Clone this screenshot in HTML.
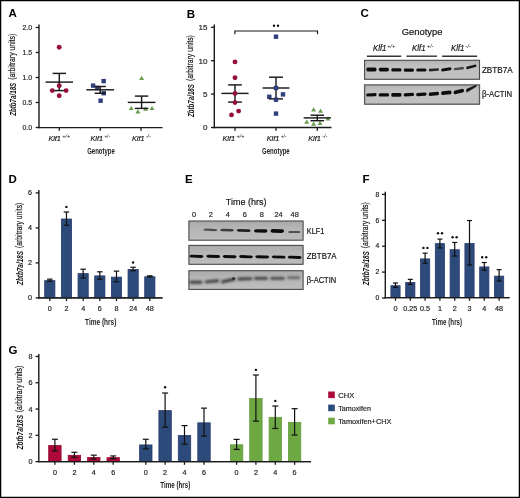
<!DOCTYPE html><html><head><meta charset="utf-8"><style>html,body{margin:0;padding:0;background:#fff}svg{display:block;will-change:transform}text{font-family:"Liberation Sans",sans-serif}</style></head><body>
<svg width="520" height="498" viewBox="0 0 520 498">
<defs><filter id="b1" x="-20%" y="-100%" width="140%" height="300%"><feGaussianBlur stdDeviation="0.7"/></filter><filter id="b3" x="-20%" y="-100%" width="140%" height="300%"><feGaussianBlur stdDeviation="0.95"/></filter><filter id="b2" x="-20%" y="-100%" width="140%" height="300%"><feGaussianBlur stdDeviation="0.5"/></filter><linearGradient id="gb" x1="0" y1="0" x2="0" y2="1"><stop offset="0" stop-color="#b4b4b4"/><stop offset="0.3" stop-color="#c0c0c0"/><stop offset="1" stop-color="#c0c0c0"/></linearGradient><linearGradient id="ge" x1="0" y1="0" x2="0" y2="1"><stop offset="0" stop-color="#a9a9a9"/><stop offset="0.35" stop-color="#b5b5b5"/><stop offset="1" stop-color="#bdbdbd"/></linearGradient></defs>
<rect x="0" y="0" width="520" height="498" fill="#fff"/>
<text x="8.40" y="17.48" font-size="11.5" text-anchor="start" fill="#000" stroke="#000" stroke-width="0" font-weight="bold" font-style="normal" >A</text>
<line x1="39.00" y1="24.50" x2="39.00" y2="128.30" stroke="#1a1a1a" stroke-width="1.4"/>
<line x1="35.70" y1="27.50" x2="39.00" y2="27.50" stroke="#1a1a1a" stroke-width="1.3"/>
<text x="32.10" y="30.40" font-size="8.0" text-anchor="end" fill="#222" stroke="#222" stroke-width="0.18" font-weight="normal" font-style="normal" textLength="9.6" lengthAdjust="spacingAndGlyphs" >2.0</text>
<line x1="35.70" y1="52.50" x2="39.00" y2="52.50" stroke="#1a1a1a" stroke-width="1.3"/>
<text x="32.10" y="55.40" font-size="8.0" text-anchor="end" fill="#222" stroke="#222" stroke-width="0.18" font-weight="normal" font-style="normal" textLength="9.6" lengthAdjust="spacingAndGlyphs" >1.5</text>
<line x1="35.70" y1="77.50" x2="39.00" y2="77.50" stroke="#1a1a1a" stroke-width="1.3"/>
<text x="32.10" y="80.40" font-size="8.0" text-anchor="end" fill="#222" stroke="#222" stroke-width="0.18" font-weight="normal" font-style="normal" textLength="9.6" lengthAdjust="spacingAndGlyphs" >1.0</text>
<line x1="35.70" y1="102.50" x2="39.00" y2="102.50" stroke="#1a1a1a" stroke-width="1.3"/>
<text x="32.10" y="105.40" font-size="8.0" text-anchor="end" fill="#222" stroke="#222" stroke-width="0.18" font-weight="normal" font-style="normal" textLength="9.6" lengthAdjust="spacingAndGlyphs" >0.5</text>
<line x1="35.70" y1="127.50" x2="39.00" y2="127.50" stroke="#1a1a1a" stroke-width="1.3"/>
<text x="32.10" y="130.40" font-size="8.0" text-anchor="end" fill="#222" stroke="#222" stroke-width="0.18" font-weight="normal" font-style="normal" textLength="9.6" lengthAdjust="spacingAndGlyphs" >0.0</text>
<line x1="38.30" y1="127.60" x2="162.50" y2="127.60" stroke="#1a1a1a" stroke-width="1.4"/>
<line x1="59.30" y1="127.60" x2="59.30" y2="130.80" stroke="#1a1a1a" stroke-width="1.3"/>
<line x1="100.30" y1="127.60" x2="100.30" y2="130.80" stroke="#1a1a1a" stroke-width="1.3"/>
<line x1="141.00" y1="127.60" x2="141.00" y2="130.80" stroke="#1a1a1a" stroke-width="1.3"/>
<text transform="translate(15.60,115.80) rotate(-90)" font-size="9.0" font-style="italic" font-weight="bold" fill="#141414" textLength="33.0" lengthAdjust="spacingAndGlyphs">Zbtb7a/18S</text>
<text transform="translate(15.00,79.80) rotate(-90)" font-size="9.0" fill="#141414" stroke="#141414" stroke-width="0.2" textLength="46.0" lengthAdjust="spacingAndGlyphs">(arbitrary units)</text>
<text x="48.40" y="140.80" font-size="8.0" font-style="italic" fill="#141414" stroke="#141414" stroke-width="0.18" textLength="12.5" lengthAdjust="spacingAndGlyphs">Klf1</text>
<text x="62.30" y="137.60" font-size="4.50" font-style="italic" fill="#141414" textLength="8.0" lengthAdjust="spacingAndGlyphs">+/+</text>
<text x="90.50" y="140.80" font-size="8.0" font-style="italic" fill="#141414" stroke="#141414" stroke-width="0.18" textLength="12.5" lengthAdjust="spacingAndGlyphs">Klf1</text>
<text x="104.40" y="137.60" font-size="4.50" font-style="italic" fill="#141414" textLength="5.6" lengthAdjust="spacingAndGlyphs">+/-</text>
<text x="132.00" y="140.80" font-size="8.0" font-style="italic" fill="#141414" stroke="#141414" stroke-width="0.18" textLength="12.5" lengthAdjust="spacingAndGlyphs">Klf1</text>
<text x="145.90" y="137.60" font-size="4.50" font-style="italic" fill="#141414" textLength="4.8" lengthAdjust="spacingAndGlyphs">-/-</text>
<text x="87.20" y="154.40" font-size="9.6" text-anchor="start" fill="#1e1e1e" stroke="#1e1e1e" stroke-width="0" font-weight="bold" font-style="normal" textLength="27.6" lengthAdjust="spacingAndGlyphs" >Genotype</text>
<line x1="45.60" y1="82.10" x2="73.00" y2="82.10" stroke="#1a1a1a" stroke-width="1.45"/>
<line x1="59.30" y1="73.40" x2="59.30" y2="90.60" stroke="#1a1a1a" stroke-width="1.45"/>
<line x1="52.60" y1="73.40" x2="66.00" y2="73.40" stroke="#1a1a1a" stroke-width="1.45"/>
<line x1="52.60" y1="90.60" x2="66.00" y2="90.60" stroke="#1a1a1a" stroke-width="1.45"/>
<circle cx="59.20" cy="47.20" r="2.45" fill="#960f3c"/>
<circle cx="59.20" cy="85.70" r="2.45" fill="#960f3c"/>
<circle cx="52.30" cy="90.60" r="2.45" fill="#960f3c"/>
<circle cx="66.10" cy="90.60" r="2.45" fill="#960f3c"/>
<circle cx="59.20" cy="95.80" r="2.45" fill="#960f3c"/>
<rect x="101.50" y="78.90" width="4.4" height="4.4" fill="#2f3f7a"/>
<rect x="90.90" y="83.40" width="4.4" height="4.4" fill="#2f3f7a"/>
<rect x="95.10" y="85.80" width="4.4" height="4.4" fill="#2f3f7a"/>
<rect x="101.50" y="91.00" width="4.4" height="4.4" fill="#2f3f7a"/>
<rect x="98.40" y="98.50" width="4.4" height="4.4" fill="#2f3f7a"/>
<line x1="86.30" y1="89.80" x2="114.10" y2="89.80" stroke="#1a1a1a" stroke-width="1.45"/>
<line x1="100.20" y1="86.50" x2="100.20" y2="93.30" stroke="#1a1a1a" stroke-width="1.45"/>
<line x1="94.60" y1="86.50" x2="105.80" y2="86.50" stroke="#1a1a1a" stroke-width="1.45"/>
<line x1="94.60" y1="93.30" x2="105.80" y2="93.30" stroke="#1a1a1a" stroke-width="1.45"/>
<polygon points="139.10,80.03 144.10,80.03 141.60,75.78" fill="#6a9c52"/>
<polygon points="128.70,110.12 133.70,110.12 131.20,105.88" fill="#6a9c52"/>
<polygon points="135.40,113.53 140.40,113.53 137.90,109.28" fill="#6a9c52"/>
<polygon points="143.10,110.83 148.10,110.83 145.60,106.58" fill="#6a9c52"/>
<polygon points="149.50,110.12 154.50,110.12 152.00,105.88" fill="#6a9c52"/>
<line x1="127.75" y1="102.40" x2="155.45" y2="102.40" stroke="#1a1a1a" stroke-width="1.45"/>
<line x1="141.60" y1="96.10" x2="141.60" y2="108.40" stroke="#1a1a1a" stroke-width="1.45"/>
<line x1="134.90" y1="96.10" x2="148.30" y2="96.10" stroke="#1a1a1a" stroke-width="1.45"/>
<line x1="134.90" y1="108.40" x2="148.30" y2="108.40" stroke="#1a1a1a" stroke-width="1.45"/>
<text x="186.70" y="17.88" font-size="11.5" text-anchor="start" fill="#000" stroke="#000" stroke-width="0" font-weight="bold" font-style="normal" >B</text>
<line x1="214.30" y1="24.50" x2="214.30" y2="128.20" stroke="#1a1a1a" stroke-width="1.4"/>
<line x1="211.00" y1="27.30" x2="214.30" y2="27.30" stroke="#1a1a1a" stroke-width="1.3"/>
<text x="207.50" y="30.20" font-size="8.0" text-anchor="end" fill="#222" stroke="#222" stroke-width="0.18" font-weight="normal" font-style="normal" >15</text>
<line x1="211.00" y1="60.70" x2="214.30" y2="60.70" stroke="#1a1a1a" stroke-width="1.3"/>
<text x="207.50" y="63.60" font-size="8.0" text-anchor="end" fill="#222" stroke="#222" stroke-width="0.18" font-weight="normal" font-style="normal" >10</text>
<line x1="211.00" y1="94.10" x2="214.30" y2="94.10" stroke="#1a1a1a" stroke-width="1.3"/>
<text x="207.50" y="97.00" font-size="8.0" text-anchor="end" fill="#222" stroke="#222" stroke-width="0.18" font-weight="normal" font-style="normal" >5</text>
<line x1="211.00" y1="127.50" x2="214.30" y2="127.50" stroke="#1a1a1a" stroke-width="1.3"/>
<text x="207.50" y="130.40" font-size="8.0" text-anchor="end" fill="#222" stroke="#222" stroke-width="0.18" font-weight="normal" font-style="normal" >0</text>
<line x1="213.60" y1="127.50" x2="331.50" y2="127.50" stroke="#1a1a1a" stroke-width="1.4"/>
<line x1="235.00" y1="127.50" x2="235.00" y2="130.70" stroke="#1a1a1a" stroke-width="1.3"/>
<line x1="276.00" y1="127.50" x2="276.00" y2="130.70" stroke="#1a1a1a" stroke-width="1.3"/>
<line x1="317.30" y1="127.50" x2="317.30" y2="130.70" stroke="#1a1a1a" stroke-width="1.3"/>
<text transform="translate(193.90,117.10) rotate(-90)" font-size="9.0" font-style="italic" font-weight="bold" fill="#141414" textLength="33.0" lengthAdjust="spacingAndGlyphs">Zbtb7a/18S</text>
<text transform="translate(193.30,81.10) rotate(-90)" font-size="9.0" fill="#141414" stroke="#141414" stroke-width="0.2" textLength="46.0" lengthAdjust="spacingAndGlyphs">(arbitrary units)</text>
<text x="222.40" y="140.80" font-size="8.0" font-style="italic" fill="#141414" stroke="#141414" stroke-width="0.18" textLength="12.7" lengthAdjust="spacingAndGlyphs">Klf1</text>
<text x="236.50" y="137.60" font-size="4.50" font-style="italic" fill="#141414" textLength="8.0" lengthAdjust="spacingAndGlyphs">+/+</text>
<text x="266.70" y="140.80" font-size="8.0" font-style="italic" fill="#141414" stroke="#141414" stroke-width="0.18" textLength="12.7" lengthAdjust="spacingAndGlyphs">Klf1</text>
<text x="280.80" y="137.60" font-size="4.50" font-style="italic" fill="#141414" textLength="5.6" lengthAdjust="spacingAndGlyphs">+/-</text>
<text x="308.20" y="140.80" font-size="8.0" font-style="italic" fill="#141414" stroke="#141414" stroke-width="0.18" textLength="12.7" lengthAdjust="spacingAndGlyphs">Klf1</text>
<text x="322.30" y="137.60" font-size="4.50" font-style="italic" fill="#141414" textLength="4.8" lengthAdjust="spacingAndGlyphs">-/-</text>
<text x="262.10" y="154.40" font-size="9.6" text-anchor="start" fill="#1e1e1e" stroke="#1e1e1e" stroke-width="0" font-weight="bold" font-style="normal" textLength="27.6" lengthAdjust="spacingAndGlyphs" >Genotype</text>
<polyline points="234.9,34.2 234.9,31.0 317.5,31.0 317.5,34.2" fill="none" stroke="#1a1a1a" stroke-width="1.2"/>
<circle cx="274.00" cy="25.80" r="1.2" fill="#111"/>
<circle cx="278.00" cy="25.80" r="1.2" fill="#111"/>
<circle cx="235.00" cy="61.90" r="2.45" fill="#960f3c"/>
<circle cx="235.00" cy="77.70" r="2.45" fill="#960f3c"/>
<circle cx="238.60" cy="111.10" r="2.45" fill="#960f3c"/>
<circle cx="231.50" cy="114.90" r="2.45" fill="#960f3c"/>
<line x1="221.45" y1="93.40" x2="248.55" y2="93.40" stroke="#1a1a1a" stroke-width="1.45"/>
<line x1="235.00" y1="84.90" x2="235.00" y2="102.10" stroke="#1a1a1a" stroke-width="1.45"/>
<line x1="228.15" y1="84.90" x2="241.85" y2="84.90" stroke="#1a1a1a" stroke-width="1.45"/>
<line x1="228.15" y1="102.10" x2="241.85" y2="102.10" stroke="#1a1a1a" stroke-width="1.45"/>
<circle cx="235.00" cy="93.40" r="2.45" fill="#960f3c"/>
<circle cx="235.00" cy="102.60" r="2.45" fill="#960f3c"/>
<rect x="273.80" y="34.50" width="4.4" height="4.4" fill="#2f3f7a"/>
<rect x="267.10" y="94.60" width="4.4" height="4.4" fill="#2f3f7a"/>
<rect x="280.80" y="92.20" width="4.4" height="4.4" fill="#2f3f7a"/>
<rect x="273.80" y="111.40" width="4.4" height="4.4" fill="#2f3f7a"/>
<line x1="262.55" y1="88.00" x2="289.45" y2="88.00" stroke="#1a1a1a" stroke-width="1.45"/>
<line x1="276.00" y1="77.20" x2="276.00" y2="98.90" stroke="#1a1a1a" stroke-width="1.45"/>
<line x1="269.00" y1="77.20" x2="283.00" y2="77.20" stroke="#1a1a1a" stroke-width="1.45"/>
<line x1="269.00" y1="98.90" x2="283.00" y2="98.90" stroke="#1a1a1a" stroke-width="1.45"/>
<rect x="273.80" y="85.80" width="4.4" height="4.4" fill="#2f3f7a"/>
<rect x="273.80" y="97.50" width="4.4" height="4.4" fill="#2f3f7a"/>
<polygon points="311.10,111.53 316.10,111.53 313.60,107.28" fill="#6a9c52"/>
<polygon points="318.00,112.83 323.00,112.83 320.50,108.58" fill="#6a9c52"/>
<polygon points="304.20,123.72 309.20,123.72 306.70,119.47" fill="#6a9c52"/>
<polygon points="311.10,125.72 316.10,125.72 313.60,121.47" fill="#6a9c52"/>
<polygon points="317.50,125.03 322.50,125.03 320.00,120.78" fill="#6a9c52"/>
<polygon points="325.50,120.53 330.50,120.53 328.00,116.28" fill="#6a9c52"/>
<line x1="303.65" y1="117.90" x2="330.95" y2="117.90" stroke="#1a1a1a" stroke-width="1.45"/>
<line x1="317.30" y1="115.20" x2="317.30" y2="120.70" stroke="#1a1a1a" stroke-width="1.45"/>
<line x1="310.50" y1="115.20" x2="324.10" y2="115.20" stroke="#1a1a1a" stroke-width="1.45"/>
<line x1="310.50" y1="120.70" x2="324.10" y2="120.70" stroke="#1a1a1a" stroke-width="1.45"/>
<text x="360.50" y="17.48" font-size="11.5" text-anchor="start" fill="#000" stroke="#000" stroke-width="0" font-weight="bold" font-style="normal" >C</text>
<text x="401.70" y="35.20" font-size="8.8" text-anchor="start" fill="#141414" stroke="#141414" stroke-width="0.18" font-weight="normal" font-style="normal" textLength="40.7" lengthAdjust="spacingAndGlyphs" >Genotype</text>
<text x="372.90" y="50.90" font-size="8.4" font-style="italic" fill="#141414" stroke="#141414" stroke-width="0.18" textLength="13.6" lengthAdjust="spacingAndGlyphs">Klf1</text>
<text x="387.30" y="47.80" font-size="5.00" font-style="italic" fill="#141414" textLength="8.0" lengthAdjust="spacingAndGlyphs">+/+</text>
<text x="412.10" y="50.90" font-size="8.4" font-style="italic" fill="#141414" stroke="#141414" stroke-width="0.18" textLength="13.6" lengthAdjust="spacingAndGlyphs">Klf1</text>
<text x="426.50" y="47.80" font-size="5.00" font-style="italic" fill="#141414" textLength="7.0" lengthAdjust="spacingAndGlyphs">+/-</text>
<text x="450.90" y="50.90" font-size="8.4" font-style="italic" fill="#141414" stroke="#141414" stroke-width="0.18" textLength="13.6" lengthAdjust="spacingAndGlyphs">Klf1</text>
<text x="465.30" y="47.80" font-size="5.00" font-style="italic" fill="#141414" textLength="5.8" lengthAdjust="spacingAndGlyphs">-/-</text>
<line x1="366.90" y1="56.20" x2="401.20" y2="56.20" stroke="#333" stroke-width="1.4"/>
<line x1="406.40" y1="56.20" x2="437.00" y2="56.20" stroke="#333" stroke-width="1.4"/>
<line x1="442.10" y1="56.20" x2="477.10" y2="56.20" stroke="#333" stroke-width="1.4"/>
<rect x="364.60" y="60.30" width="114.90" height="19.00" fill="url(#gb)" stroke="#4a4a4a" stroke-width="1.1"/>
<rect x="364.60" y="84.90" width="114.90" height="19.30" fill="url(#gb)" stroke="#5a5a5a" stroke-width="1.3"/>
<path d="M367.76,67.60 L375.04,67.60 Q376.50,67.60 376.50,69.50 Q376.50,71.40 375.04,71.40 L367.76,71.40 Q366.30,71.40 366.30,69.50 Q366.30,67.60 367.76,67.60 Z" fill="#111" opacity="1.0" filter="url(#b2)"/>
<path d="M380.17,67.80 L387.61,67.80 Q388.99,67.80 388.99,69.60 Q388.99,71.40 387.61,71.40 L380.17,71.40 Q378.79,71.40 378.79,69.60 Q378.79,67.80 380.17,67.80 Z" fill="#111" opacity="1.0" filter="url(#b2)"/>
<path d="M392.51,68.30 L400.25,68.30 Q401.48,68.30 401.48,69.90 Q401.48,71.50 400.25,71.50 L392.51,71.50 Q391.28,71.50 391.28,69.90 Q391.28,68.30 392.51,68.30 Z" fill="#111" opacity="1.0" filter="url(#b2)"/>
<path d="M405.00,68.50 L412.74,68.50 Q413.97,68.50 413.97,70.10 Q413.97,71.70 412.74,71.70 L405.00,71.70 Q403.77,71.70 403.77,70.10 Q403.77,68.50 405.00,68.50 Z" fill="#111" opacity="1.0" filter="url(#b2)"/>
<path d="M417.49,68.40 L425.23,68.40 Q426.46,68.40 426.46,70.00 Q426.46,71.60 425.23,71.60 L417.49,71.60 Q416.26,71.60 416.26,70.00 Q416.26,68.40 417.49,68.40 Z" fill="#111" opacity="1.0" filter="url(#b2)"/>
<path d="M429.75,68.80 L437.95,68.20 Q438.95,68.20 438.95,69.50 Q438.95,70.80 437.95,70.80 L429.75,71.40 Q428.75,71.40 428.75,70.10 Q428.75,68.80 429.75,68.80 Z" fill="#111" opacity="0.85" filter="url(#b2)"/>
<path d="M442.39,68.40 L450.29,67.20 Q451.44,67.20 451.44,68.70 Q451.44,70.20 450.29,70.20 L442.39,71.40 Q441.24,71.40 441.24,69.90 Q441.24,68.40 442.39,68.40 Z" fill="#111" opacity="1.0" filter="url(#b2)"/>
<path d="M454.61,67.95 L463.05,66.80 Q463.93,66.80 463.93,68.10 Q463.93,69.40 463.05,69.40 L454.61,70.25 Q453.73,70.25 453.73,69.10 Q453.73,67.95 454.61,67.95 Z" fill="#111" opacity="0.65" filter="url(#b2)"/>
<path d="M467.14,66.60 L475.50,64.50 Q476.42,64.50 476.42,65.70 Q476.42,66.90 475.50,66.90 L467.14,69.20 Q466.22,69.20 466.22,67.90 Q466.22,66.60 467.14,66.60 Z" fill="#111" opacity="0.95" filter="url(#b2)"/>
<path d="M367.43,93.40 L375.37,93.00 Q376.60,93.00 376.60,94.60 Q376.60,96.20 375.37,96.20 L367.43,96.60 Q366.20,96.60 366.20,95.00 Q366.20,93.40 367.43,93.40 Z" fill="#111" opacity="1.0" filter="url(#b2)"/>
<path d="M379.92,93.30 L387.86,93.30 Q389.09,93.30 389.09,94.90 Q389.09,96.50 387.86,96.50 L379.92,96.50 Q378.69,96.50 378.69,94.90 Q378.69,93.30 379.92,93.30 Z" fill="#111" opacity="1.0" filter="url(#b2)"/>
<path d="M392.56,93.10 L400.20,93.10 Q401.58,93.10 401.58,94.90 Q401.58,96.70 400.20,96.70 L392.56,96.70 Q391.18,96.70 391.18,94.90 Q391.18,93.10 392.56,93.10 Z" fill="#111" opacity="1.0" filter="url(#b2)"/>
<path d="M404.90,93.20 L412.84,92.80 Q414.07,92.80 414.07,94.40 Q414.07,96.00 412.84,96.00 L404.90,96.40 Q403.67,96.40 403.67,94.80 Q403.67,93.20 404.90,93.20 Z" fill="#111" opacity="1.0" filter="url(#b2)"/>
<path d="M417.39,92.95 L425.33,92.45 Q426.56,92.45 426.56,94.05 Q426.56,95.65 425.33,95.65 L417.39,96.15 Q416.16,96.15 416.16,94.55 Q416.16,92.95 417.39,92.95 Z" fill="#111" opacity="1.0" filter="url(#b2)"/>
<path d="M429.96,92.60 L437.74,91.80 Q439.05,91.80 439.05,93.50 Q439.05,95.20 437.74,95.20 L429.96,96.00 Q428.65,96.00 428.65,94.30 Q428.65,92.60 429.96,92.60 Z" fill="#111" opacity="1.0" filter="url(#b2)"/>
<path d="M442.60,91.30 L450.08,90.50 Q451.54,90.50 451.54,92.40 Q451.54,94.30 450.08,94.30 L442.60,95.10 Q441.14,95.10 441.14,93.20 Q441.14,91.30 442.60,91.30 Z" fill="#111" opacity="1.0" filter="url(#b2)"/>
<path d="M455.09,90.55 L462.57,88.65 Q464.03,88.65 464.03,90.55 Q464.03,92.45 462.57,92.45 L455.09,94.35 Q453.63,94.35 453.63,92.45 Q453.63,90.55 455.09,90.55 Z" fill="#111" opacity="1.0" filter="url(#b2)"/>
<path d="M466.89,88.80 L475.75,85.00 Q476.52,85.00 476.52,86.00 Q476.52,87.00 475.75,87.00 L466.89,92.40 Q466.12,92.40 466.12,90.60 Q466.12,88.80 466.89,88.80 Z" fill="#111" opacity="0.95" filter="url(#b2)"/>
<text x="481.90" y="72.70" font-size="8.4" text-anchor="start" fill="#111" stroke="#111" stroke-width="0.18" font-weight="normal" font-style="normal" textLength="30.8" lengthAdjust="spacingAndGlyphs" >ZBTB7A</text>
<text x="482.00" y="97.30" font-size="8.4" text-anchor="start" fill="#111" stroke="#111" stroke-width="0.18" font-weight="normal" font-style="normal" textLength="30.2" lengthAdjust="spacingAndGlyphs" >&#946;-ACTIN</text>
<text x="8.40" y="183.08" font-size="11.5" text-anchor="start" fill="#000" stroke="#000" stroke-width="0" font-weight="bold" font-style="normal" >D</text>
<line x1="38.90" y1="190.10" x2="38.90" y2="298.60" stroke="#1a1a1a" stroke-width="1.4"/>
<line x1="35.60" y1="192.90" x2="38.90" y2="192.90" stroke="#1a1a1a" stroke-width="1.3"/>
<text x="32.10" y="195.20" font-size="7.2" text-anchor="end" fill="#222" stroke="#222" stroke-width="0.18" font-weight="normal" font-style="normal" >6</text>
<line x1="35.60" y1="227.90" x2="38.90" y2="227.90" stroke="#1a1a1a" stroke-width="1.3"/>
<text x="32.10" y="230.20" font-size="7.2" text-anchor="end" fill="#222" stroke="#222" stroke-width="0.18" font-weight="normal" font-style="normal" >4</text>
<line x1="35.60" y1="262.90" x2="38.90" y2="262.90" stroke="#1a1a1a" stroke-width="1.3"/>
<text x="32.10" y="265.20" font-size="7.2" text-anchor="end" fill="#222" stroke="#222" stroke-width="0.18" font-weight="normal" font-style="normal" >2</text>
<line x1="35.60" y1="297.90" x2="38.90" y2="297.90" stroke="#1a1a1a" stroke-width="1.3"/>
<text x="32.10" y="300.20" font-size="7.2" text-anchor="end" fill="#222" stroke="#222" stroke-width="0.18" font-weight="normal" font-style="normal" >0</text>
<line x1="38.20" y1="297.90" x2="162.50" y2="297.90" stroke="#1a1a1a" stroke-width="1.4"/>
<line x1="49.80" y1="297.90" x2="49.80" y2="301.10" stroke="#1a1a1a" stroke-width="1.3"/>
<text x="49.80" y="311.20" font-size="7.2" text-anchor="middle" fill="#222" stroke="#222" stroke-width="0.18" font-weight="normal" font-style="normal" >0</text>
<line x1="66.47" y1="297.90" x2="66.47" y2="301.10" stroke="#1a1a1a" stroke-width="1.3"/>
<text x="66.47" y="311.20" font-size="7.2" text-anchor="middle" fill="#222" stroke="#222" stroke-width="0.18" font-weight="normal" font-style="normal" >2</text>
<line x1="83.14" y1="297.90" x2="83.14" y2="301.10" stroke="#1a1a1a" stroke-width="1.3"/>
<text x="83.14" y="311.20" font-size="7.2" text-anchor="middle" fill="#222" stroke="#222" stroke-width="0.18" font-weight="normal" font-style="normal" >4</text>
<line x1="99.81" y1="297.90" x2="99.81" y2="301.10" stroke="#1a1a1a" stroke-width="1.3"/>
<text x="99.81" y="311.20" font-size="7.2" text-anchor="middle" fill="#222" stroke="#222" stroke-width="0.18" font-weight="normal" font-style="normal" >6</text>
<line x1="116.48" y1="297.90" x2="116.48" y2="301.10" stroke="#1a1a1a" stroke-width="1.3"/>
<text x="116.48" y="311.20" font-size="7.2" text-anchor="middle" fill="#222" stroke="#222" stroke-width="0.18" font-weight="normal" font-style="normal" >8</text>
<line x1="133.15" y1="297.90" x2="133.15" y2="301.10" stroke="#1a1a1a" stroke-width="1.3"/>
<text x="133.15" y="311.20" font-size="7.2" text-anchor="middle" fill="#222" stroke="#222" stroke-width="0.18" font-weight="normal" font-style="normal" >24</text>
<line x1="149.82" y1="297.90" x2="149.82" y2="301.10" stroke="#1a1a1a" stroke-width="1.3"/>
<text x="149.82" y="311.20" font-size="7.2" text-anchor="middle" fill="#222" stroke="#222" stroke-width="0.18" font-weight="normal" font-style="normal" >48</text>
<text transform="translate(22.50,285.00) rotate(-90)" font-size="9.0" font-style="italic" font-weight="bold" fill="#141414" textLength="34.0" lengthAdjust="spacingAndGlyphs">Zbtb7a/18S</text>
<text transform="translate(21.90,248.10) rotate(-90)" font-size="9.0" fill="#141414" stroke="#141414" stroke-width="0.2" textLength="45.4" lengthAdjust="spacingAndGlyphs">(arbitrary units)</text>
<text x="85.10" y="325.00" font-size="9.4" text-anchor="start" fill="#1e1e1e" stroke="#1e1e1e" stroke-width="0" font-weight="bold" font-style="normal" textLength="31.2" lengthAdjust="spacingAndGlyphs" >Time (hrs)</text>
<rect x="44.70" y="280.62" width="10.20" height="17.28" fill="#2c4a7a" stroke="#2a3a6e" stroke-width="0.8"/>
<line x1="49.80" y1="279.17" x2="49.80" y2="281.27" stroke="#111" stroke-width="1.2"/>
<line x1="47.05" y1="279.17" x2="52.55" y2="279.17" stroke="#111" stroke-width="1.2"/>
<line x1="47.05" y1="281.27" x2="52.55" y2="281.27" stroke="#111" stroke-width="1.2"/>
<rect x="61.37" y="219.02" width="10.20" height="78.88" fill="#2c4a7a" stroke="#2a3a6e" stroke-width="0.8"/>
<line x1="66.47" y1="211.97" x2="66.47" y2="225.27" stroke="#111" stroke-width="1.2"/>
<line x1="63.72" y1="211.97" x2="69.22" y2="211.97" stroke="#111" stroke-width="1.2"/>
<line x1="63.72" y1="225.27" x2="69.22" y2="225.27" stroke="#111" stroke-width="1.2"/>
<rect x="78.04" y="273.62" width="10.20" height="24.28" fill="#2c4a7a" stroke="#2a3a6e" stroke-width="0.8"/>
<line x1="83.14" y1="269.20" x2="83.14" y2="277.95" stroke="#111" stroke-width="1.2"/>
<line x1="80.39" y1="269.20" x2="85.89" y2="269.20" stroke="#111" stroke-width="1.2"/>
<line x1="80.39" y1="277.95" x2="85.89" y2="277.95" stroke="#111" stroke-width="1.2"/>
<rect x="94.71" y="275.90" width="10.20" height="22.00" fill="#2c4a7a" stroke="#2a3a6e" stroke-width="0.8"/>
<line x1="99.81" y1="271.82" x2="99.81" y2="279.17" stroke="#111" stroke-width="1.2"/>
<line x1="97.06" y1="271.82" x2="102.56" y2="271.82" stroke="#111" stroke-width="1.2"/>
<line x1="97.06" y1="279.17" x2="102.56" y2="279.17" stroke="#111" stroke-width="1.2"/>
<rect x="111.38" y="277.12" width="10.20" height="20.78" fill="#2c4a7a" stroke="#2a3a6e" stroke-width="0.8"/>
<line x1="116.48" y1="271.12" x2="116.48" y2="281.80" stroke="#111" stroke-width="1.2"/>
<line x1="113.73" y1="271.12" x2="119.23" y2="271.12" stroke="#111" stroke-width="1.2"/>
<line x1="113.73" y1="281.80" x2="119.23" y2="281.80" stroke="#111" stroke-width="1.2"/>
<rect x="128.05" y="269.42" width="10.20" height="28.48" fill="#2c4a7a" stroke="#2a3a6e" stroke-width="0.8"/>
<line x1="133.15" y1="267.27" x2="133.15" y2="270.77" stroke="#111" stroke-width="1.2"/>
<line x1="130.40" y1="267.27" x2="135.90" y2="267.27" stroke="#111" stroke-width="1.2"/>
<line x1="130.40" y1="270.77" x2="135.90" y2="270.77" stroke="#111" stroke-width="1.2"/>
<rect x="144.72" y="276.77" width="10.20" height="21.12" fill="#2c4a7a" stroke="#2a3a6e" stroke-width="0.8"/>
<line x1="149.82" y1="275.85" x2="149.82" y2="276.90" stroke="#111" stroke-width="1.2"/>
<line x1="147.07" y1="275.85" x2="152.57" y2="275.85" stroke="#111" stroke-width="1.2"/>
<line x1="147.07" y1="276.90" x2="152.57" y2="276.90" stroke="#111" stroke-width="1.2"/>
<line x1="38.20" y1="297.90" x2="162.50" y2="297.90" stroke="#1a1a1a" stroke-width="1.4"/>
<circle cx="66.40" cy="206.90" r="1.2" fill="#111"/>
<circle cx="133.10" cy="262.50" r="1.2" fill="#111"/>
<text x="185.10" y="183.08" font-size="11.5" text-anchor="start" fill="#000" stroke="#000" stroke-width="0" font-weight="bold" font-style="normal" >E</text>
<text x="225.80" y="205.00" font-size="8.9" text-anchor="start" fill="#141414" stroke="#141414" stroke-width="0.18" font-weight="normal" font-style="normal" textLength="40.6" lengthAdjust="spacingAndGlyphs" >Time (hrs)</text>
<text x="194.10" y="216.70" font-size="7.4" text-anchor="middle" fill="#222" stroke="#222" stroke-width="0.18" font-weight="normal" font-style="normal" >0</text>
<text x="210.80" y="216.70" font-size="7.4" text-anchor="middle" fill="#222" stroke="#222" stroke-width="0.18" font-weight="normal" font-style="normal" >2</text>
<text x="227.70" y="216.70" font-size="7.4" text-anchor="middle" fill="#222" stroke="#222" stroke-width="0.18" font-weight="normal" font-style="normal" >4</text>
<text x="244.70" y="216.70" font-size="7.4" text-anchor="middle" fill="#222" stroke="#222" stroke-width="0.18" font-weight="normal" font-style="normal" >6</text>
<text x="261.80" y="216.70" font-size="7.4" text-anchor="middle" fill="#222" stroke="#222" stroke-width="0.18" font-weight="normal" font-style="normal" >8</text>
<text x="278.60" y="216.70" font-size="7.4" text-anchor="middle" fill="#222" stroke="#222" stroke-width="0.18" font-weight="normal" font-style="normal" >24</text>
<text x="294.70" y="216.70" font-size="7.4" text-anchor="middle" fill="#222" stroke="#222" stroke-width="0.18" font-weight="normal" font-style="normal" >48</text>
<rect x="188.90" y="221.00" width="114.20" height="19.20" fill="url(#ge)" stroke="#4a4a4a" stroke-width="1.1"/>
<rect x="188.90" y="245.40" width="114.20" height="18.90" fill="url(#ge)" stroke="#4a4a4a" stroke-width="1.1"/>
<rect x="188.90" y="270.70" width="114.20" height="18.70" fill="url(#ge)" stroke="#4a4a4a" stroke-width="1.1"/>
<path d="M203.40,229.70 C204.24,228.60 205.08,228.60 206.20,228.60 L214.60,229.00 C216.28,229.00 216.56,229.00 217.40,230.10 C216.56,231.20 216.28,231.20 214.60,231.20 L206.20,230.80 C205.08,230.80 204.24,230.80 203.40,229.70 Z" fill="#111" opacity="0.6" filter="url(#b2)"/>
<path d="M220.10,230.05 C220.93,228.80 221.76,228.80 222.86,228.80 L231.14,229.10 C232.80,229.10 233.07,229.10 233.90,230.35 C233.07,231.60 232.80,231.60 231.14,231.60 L222.86,231.30 C221.76,231.30 220.93,231.30 220.10,230.05 Z" fill="#111" opacity="0.72" filter="url(#b2)"/>
<path d="M236.60,230.35 C237.44,228.95 238.28,228.95 239.40,228.95 L247.80,229.25 C249.48,229.25 249.76,229.25 250.60,230.65 C249.76,232.05 249.48,232.05 247.80,232.05 L239.40,231.75 C238.28,231.75 237.44,231.75 236.60,230.35 Z" fill="#111" opacity="0.88" filter="url(#b2)"/>
<path d="M253.90,230.80 C254.72,229.15 255.53,229.15 256.62,229.15 L264.78,229.35 C266.41,229.35 266.68,229.35 267.50,231.00 C266.68,232.65 266.41,232.65 264.78,232.65 L256.62,232.45 C255.53,232.45 254.72,232.45 253.90,230.80 Z" fill="#111" opacity="1.0" filter="url(#b2)"/>
<path d="M270.40,230.90 C271.23,229.10 272.06,229.10 273.16,229.10 L281.44,229.30 C283.10,229.30 283.37,229.30 284.20,231.10 C283.37,232.90 283.10,232.90 281.44,232.90 L273.16,232.70 C272.06,232.70 271.23,232.70 270.40,230.90 Z" fill="#111" opacity="1.0" filter="url(#b2)"/>
<path d="M288.00,232.00 C288.76,231.00 289.51,231.00 290.52,231.00 L298.08,231.00 C299.59,231.00 299.84,231.00 300.60,232.00 C299.84,233.00 299.59,233.00 298.08,233.00 L290.52,233.00 C289.51,233.00 288.76,233.00 288.00,232.00 Z" fill="#111" opacity="0.6" filter="url(#b2)"/>
<path d="M189.40,256.15 C190.24,254.70 191.08,254.70 192.20,254.70 L200.60,255.00 C202.28,255.00 202.56,255.00 203.40,256.45 C202.56,257.90 202.28,257.90 200.60,257.90 L192.20,257.60 C191.08,257.60 190.24,257.60 189.40,256.15 Z" fill="#111" opacity="1.0" filter="url(#b2)"/>
<path d="M206.20,256.25 C207.04,254.80 207.88,254.80 209.00,254.80 L217.40,255.10 C219.08,255.10 219.36,255.10 220.20,256.55 C219.36,258.00 219.08,258.00 217.40,258.00 L209.00,257.70 C207.88,257.70 207.04,257.70 206.20,256.25 Z" fill="#111" opacity="1.0" filter="url(#b2)"/>
<path d="M222.60,256.45 C223.44,255.00 224.28,255.00 225.40,255.00 L233.80,255.30 C235.48,255.30 235.76,255.30 236.60,256.75 C235.76,258.20 235.48,258.20 233.80,258.20 L225.40,257.90 C224.28,257.90 223.44,257.90 222.60,256.45 Z" fill="#111" opacity="1.0" filter="url(#b2)"/>
<path d="M239.00,256.55 C239.84,255.10 240.68,255.10 241.80,255.10 L250.20,255.40 C251.88,255.40 252.16,255.40 253.00,256.85 C252.16,258.30 251.88,258.30 250.20,258.30 L241.80,258.00 C240.68,258.00 239.84,258.00 239.00,256.55 Z" fill="#111" opacity="1.0" filter="url(#b2)"/>
<path d="M255.20,256.75 C256.04,255.30 256.88,255.30 258.00,255.30 L266.40,255.60 C268.08,255.60 268.36,255.60 269.20,257.05 C268.36,258.50 268.08,258.50 266.40,258.50 L258.00,258.20 C256.88,258.20 256.04,258.20 255.20,256.75 Z" fill="#111" opacity="1.0" filter="url(#b2)"/>
<path d="M271.60,256.85 C272.44,255.40 273.28,255.40 274.40,255.40 L282.80,255.70 C284.48,255.70 284.76,255.70 285.60,257.15 C284.76,258.60 284.48,258.60 282.80,258.60 L274.40,258.30 C273.28,258.30 272.44,258.30 271.60,256.85 Z" fill="#111" opacity="1.0" filter="url(#b2)"/>
<path d="M287.70,257.15 C288.54,255.70 289.38,255.70 290.50,255.70 L298.90,256.00 C300.58,256.00 300.86,256.00 301.70,257.45 C300.86,258.90 300.58,258.90 298.90,258.90 L290.50,258.60 C289.38,258.60 288.54,258.60 287.70,257.15 Z" fill="#111" opacity="1.0" filter="url(#b2)"/>
<path d="M190.71,280.60 L201.29,280.60 Q202.60,280.60 202.60,282.30 Q202.60,284.00 201.29,284.00 L190.71,284.00 Q189.40,284.00 189.40,282.30 Q189.40,280.60 190.71,280.60 Z" fill="#222" opacity="0.7" filter="url(#b3)"/>
<path d="M206.01,280.20 L217.99,279.00 Q219.30,279.00 219.30,280.70 Q219.30,282.40 217.99,282.40 L206.01,283.60 Q204.70,283.60 204.70,281.90 Q204.70,280.20 206.01,280.20 Z" fill="#222" opacity="0.7" filter="url(#b3)"/>
<path d="M222.48,280.00 L234.12,277.40 Q235.50,277.40 235.50,279.20 Q235.50,281.00 234.12,281.00 L222.48,283.60 Q221.10,283.60 221.10,281.80 Q221.10,280.00 222.48,280.00 Z" fill="#222" opacity="0.75" filter="url(#b3)"/>
<path d="M238.81,277.25 L251.19,276.95 Q252.50,276.95 252.50,278.65 Q252.50,280.35 251.19,280.35 L238.81,280.65 Q237.50,280.65 237.50,278.95 Q237.50,277.25 238.81,277.25 Z" fill="#222" opacity="0.7" filter="url(#b3)"/>
<path d="M255.41,276.70 L266.59,276.70 Q267.90,276.70 267.90,278.40 Q267.90,280.10 266.59,280.10 L255.41,280.10 Q254.10,280.10 254.10,278.40 Q254.10,276.70 255.41,276.70 Z" fill="#222" opacity="0.7" filter="url(#b3)"/>
<path d="M271.51,276.70 L283.49,276.70 Q284.80,276.70 284.80,278.40 Q284.80,280.10 283.49,280.10 L271.51,280.10 Q270.20,280.10 270.20,278.40 Q270.20,276.70 271.51,276.70 Z" fill="#222" opacity="0.65" filter="url(#b3)"/>
<path d="M288.35,276.30 L299.05,276.30 Q300.20,276.30 300.20,277.80 Q300.20,279.30 299.05,279.30 L288.35,279.30 Q287.20,279.30 287.20,277.80 Q287.20,276.30 288.35,276.30 Z" fill="#222" opacity="0.5" filter="url(#b3)"/>
<path d="M232.87,277.50 L234.33,277.50 Q235.10,277.50 235.10,278.50 Q235.10,279.50 234.33,279.50 L232.87,279.50 Q232.10,279.50 232.10,278.50 Q232.10,277.50 232.87,277.50 Z" fill="#111" opacity="0.8" filter="url(#b2)"/>
<text x="306.80" y="234.00" font-size="8.4" text-anchor="start" fill="#111" stroke="#111" stroke-width="0.18" font-weight="normal" font-style="normal" textLength="17.4" lengthAdjust="spacingAndGlyphs" >KLF1</text>
<text x="306.80" y="258.90" font-size="8.4" text-anchor="start" fill="#111" stroke="#111" stroke-width="0.18" font-weight="normal" font-style="normal" textLength="29.7" lengthAdjust="spacingAndGlyphs" >ZBTB7A</text>
<text x="306.80" y="282.50" font-size="8.4" text-anchor="start" fill="#111" stroke="#111" stroke-width="0.18" font-weight="normal" font-style="normal" textLength="29.4" lengthAdjust="spacingAndGlyphs" >&#946;-ACTIN</text>
<text x="362.50" y="182.78" font-size="11.5" text-anchor="start" fill="#000" stroke="#000" stroke-width="0" font-weight="bold" font-style="normal" >F</text>
<line x1="385.30" y1="191.70" x2="385.30" y2="298.30" stroke="#1a1a1a" stroke-width="1.4"/>
<line x1="382.00" y1="194.40" x2="385.30" y2="194.40" stroke="#1a1a1a" stroke-width="1.3"/>
<text x="379.20" y="196.60" font-size="6.8" text-anchor="end" fill="#222" stroke="#222" stroke-width="0.18" font-weight="normal" font-style="normal" >8</text>
<line x1="382.00" y1="220.30" x2="385.30" y2="220.30" stroke="#1a1a1a" stroke-width="1.3"/>
<text x="379.20" y="222.50" font-size="6.8" text-anchor="end" fill="#222" stroke="#222" stroke-width="0.18" font-weight="normal" font-style="normal" >6</text>
<line x1="382.00" y1="246.20" x2="385.30" y2="246.20" stroke="#1a1a1a" stroke-width="1.3"/>
<text x="379.20" y="248.40" font-size="6.8" text-anchor="end" fill="#222" stroke="#222" stroke-width="0.18" font-weight="normal" font-style="normal" >4</text>
<line x1="382.00" y1="272.10" x2="385.30" y2="272.10" stroke="#1a1a1a" stroke-width="1.3"/>
<text x="379.20" y="274.30" font-size="6.8" text-anchor="end" fill="#222" stroke="#222" stroke-width="0.18" font-weight="normal" font-style="normal" >2</text>
<line x1="382.00" y1="298.00" x2="385.30" y2="298.00" stroke="#1a1a1a" stroke-width="1.3"/>
<text x="379.20" y="300.20" font-size="6.8" text-anchor="end" fill="#222" stroke="#222" stroke-width="0.18" font-weight="normal" font-style="normal" >0</text>
<line x1="384.60" y1="297.60" x2="509.50" y2="297.60" stroke="#1a1a1a" stroke-width="1.4"/>
<line x1="395.50" y1="297.60" x2="395.50" y2="300.80" stroke="#1a1a1a" stroke-width="1.3"/>
<text x="395.50" y="310.90" font-size="7.2" text-anchor="middle" fill="#222" stroke="#222" stroke-width="0.18" font-weight="normal" font-style="normal" >0</text>
<line x1="410.30" y1="297.60" x2="410.30" y2="300.80" stroke="#1a1a1a" stroke-width="1.3"/>
<text x="410.30" y="310.90" font-size="7.2" text-anchor="middle" fill="#222" stroke="#222" stroke-width="0.18" font-weight="normal" font-style="normal" >0.25</text>
<line x1="425.10" y1="297.60" x2="425.10" y2="300.80" stroke="#1a1a1a" stroke-width="1.3"/>
<text x="425.10" y="310.90" font-size="7.2" text-anchor="middle" fill="#222" stroke="#222" stroke-width="0.18" font-weight="normal" font-style="normal" >0.5</text>
<line x1="439.90" y1="297.60" x2="439.90" y2="300.80" stroke="#1a1a1a" stroke-width="1.3"/>
<text x="439.90" y="310.90" font-size="7.2" text-anchor="middle" fill="#222" stroke="#222" stroke-width="0.18" font-weight="normal" font-style="normal" >1</text>
<line x1="454.70" y1="297.60" x2="454.70" y2="300.80" stroke="#1a1a1a" stroke-width="1.3"/>
<text x="454.70" y="310.90" font-size="7.2" text-anchor="middle" fill="#222" stroke="#222" stroke-width="0.18" font-weight="normal" font-style="normal" >2</text>
<line x1="469.50" y1="297.60" x2="469.50" y2="300.80" stroke="#1a1a1a" stroke-width="1.3"/>
<text x="469.50" y="310.90" font-size="7.2" text-anchor="middle" fill="#222" stroke="#222" stroke-width="0.18" font-weight="normal" font-style="normal" >3</text>
<line x1="484.30" y1="297.60" x2="484.30" y2="300.80" stroke="#1a1a1a" stroke-width="1.3"/>
<text x="484.30" y="310.90" font-size="7.2" text-anchor="middle" fill="#222" stroke="#222" stroke-width="0.18" font-weight="normal" font-style="normal" >4</text>
<line x1="499.10" y1="297.60" x2="499.10" y2="300.80" stroke="#1a1a1a" stroke-width="1.3"/>
<text x="499.10" y="310.90" font-size="7.2" text-anchor="middle" fill="#222" stroke="#222" stroke-width="0.18" font-weight="normal" font-style="normal" >48</text>
<text transform="translate(368.50,285.20) rotate(-90)" font-size="9.0" font-style="italic" font-weight="bold" fill="#141414" textLength="34.0" lengthAdjust="spacingAndGlyphs">Zbtb7a/18S</text>
<text transform="translate(367.90,248.20) rotate(-90)" font-size="9.0" fill="#141414" stroke="#141414" stroke-width="0.2" textLength="46.0" lengthAdjust="spacingAndGlyphs">(arbitrary units)</text>
<text x="432.10" y="325.20" font-size="9.4" text-anchor="start" fill="#1e1e1e" stroke="#1e1e1e" stroke-width="0" font-weight="bold" font-style="normal" textLength="30.0" lengthAdjust="spacingAndGlyphs" >Time (hrs)</text>
<rect x="390.90" y="285.71" width="9.20" height="11.89" fill="#2c4a7a" stroke="#2a3a6e" stroke-width="0.8"/>
<line x1="395.50" y1="282.98" x2="395.50" y2="287.38" stroke="#111" stroke-width="1.2"/>
<line x1="393.00" y1="282.98" x2="398.00" y2="282.98" stroke="#111" stroke-width="1.2"/>
<line x1="393.00" y1="287.38" x2="398.00" y2="287.38" stroke="#111" stroke-width="1.2"/>
<rect x="405.70" y="282.47" width="9.20" height="15.13" fill="#2c4a7a" stroke="#2a3a6e" stroke-width="0.8"/>
<line x1="410.30" y1="279.35" x2="410.30" y2="284.40" stroke="#111" stroke-width="1.2"/>
<line x1="407.80" y1="279.35" x2="412.80" y2="279.35" stroke="#111" stroke-width="1.2"/>
<line x1="407.80" y1="284.40" x2="412.80" y2="284.40" stroke="#111" stroke-width="1.2"/>
<rect x="420.50" y="258.90" width="9.20" height="38.70" fill="#2c4a7a" stroke="#2a3a6e" stroke-width="0.8"/>
<line x1="425.10" y1="253.19" x2="425.10" y2="263.29" stroke="#111" stroke-width="1.2"/>
<line x1="422.60" y1="253.19" x2="427.60" y2="253.19" stroke="#111" stroke-width="1.2"/>
<line x1="422.60" y1="263.29" x2="427.60" y2="263.29" stroke="#111" stroke-width="1.2"/>
<rect x="435.30" y="243.62" width="9.20" height="53.98" fill="#2c4a7a" stroke="#2a3a6e" stroke-width="0.8"/>
<line x1="439.90" y1="239.08" x2="439.90" y2="248.01" stroke="#111" stroke-width="1.2"/>
<line x1="437.40" y1="239.08" x2="442.40" y2="239.08" stroke="#111" stroke-width="1.2"/>
<line x1="437.40" y1="248.01" x2="442.40" y2="248.01" stroke="#111" stroke-width="1.2"/>
<rect x="450.10" y="249.71" width="9.20" height="47.89" fill="#2c4a7a" stroke="#2a3a6e" stroke-width="0.8"/>
<line x1="454.70" y1="242.44" x2="454.70" y2="256.04" stroke="#111" stroke-width="1.2"/>
<line x1="452.20" y1="242.44" x2="457.20" y2="242.44" stroke="#111" stroke-width="1.2"/>
<line x1="452.20" y1="256.04" x2="457.20" y2="256.04" stroke="#111" stroke-width="1.2"/>
<rect x="464.90" y="243.49" width="9.20" height="54.11" fill="#2c4a7a" stroke="#2a3a6e" stroke-width="0.8"/>
<line x1="469.50" y1="220.56" x2="469.50" y2="264.98" stroke="#111" stroke-width="1.2"/>
<line x1="467.00" y1="220.56" x2="472.00" y2="220.56" stroke="#111" stroke-width="1.2"/>
<line x1="467.00" y1="264.98" x2="472.00" y2="264.98" stroke="#111" stroke-width="1.2"/>
<rect x="479.70" y="266.93" width="9.20" height="30.67" fill="#2c4a7a" stroke="#2a3a6e" stroke-width="0.8"/>
<line x1="484.30" y1="262.52" x2="484.30" y2="270.16" stroke="#111" stroke-width="1.2"/>
<line x1="481.80" y1="262.52" x2="486.80" y2="262.52" stroke="#111" stroke-width="1.2"/>
<line x1="481.80" y1="270.16" x2="486.80" y2="270.16" stroke="#111" stroke-width="1.2"/>
<rect x="494.50" y="276.13" width="9.20" height="21.47" fill="#2c4a7a" stroke="#2a3a6e" stroke-width="0.8"/>
<line x1="499.10" y1="269.64" x2="499.10" y2="281.04" stroke="#111" stroke-width="1.2"/>
<line x1="496.60" y1="269.64" x2="501.60" y2="269.64" stroke="#111" stroke-width="1.2"/>
<line x1="496.60" y1="281.04" x2="501.60" y2="281.04" stroke="#111" stroke-width="1.2"/>
<line x1="384.60" y1="297.60" x2="509.50" y2="297.60" stroke="#1a1a1a" stroke-width="1.4"/>
<circle cx="423.40" cy="247.90" r="1.2" fill="#111"/>
<circle cx="427.40" cy="247.90" r="1.2" fill="#111"/>
<circle cx="438.00" cy="233.30" r="1.2" fill="#111"/>
<circle cx="442.00" cy="233.30" r="1.2" fill="#111"/>
<circle cx="452.60" cy="237.20" r="1.2" fill="#111"/>
<circle cx="456.60" cy="237.20" r="1.2" fill="#111"/>
<circle cx="482.20" cy="257.30" r="1.2" fill="#111"/>
<circle cx="486.20" cy="257.30" r="1.2" fill="#111"/>
<text x="8.40" y="354.38" font-size="11.5" text-anchor="start" fill="#000" stroke="#000" stroke-width="0" font-weight="bold" font-style="normal" >G</text>
<line x1="38.80" y1="354.10" x2="38.80" y2="462.30" stroke="#1a1a1a" stroke-width="1.4"/>
<line x1="35.50" y1="356.48" x2="38.80" y2="356.48" stroke="#1a1a1a" stroke-width="1.3"/>
<text x="32.60" y="358.98" font-size="7.2" text-anchor="end" fill="#222" stroke="#222" stroke-width="0.18" font-weight="normal" font-style="normal" >8</text>
<line x1="35.50" y1="382.76" x2="38.80" y2="382.76" stroke="#1a1a1a" stroke-width="1.3"/>
<text x="32.60" y="385.26" font-size="7.2" text-anchor="end" fill="#222" stroke="#222" stroke-width="0.18" font-weight="normal" font-style="normal" >6</text>
<line x1="35.50" y1="409.04" x2="38.80" y2="409.04" stroke="#1a1a1a" stroke-width="1.3"/>
<text x="32.60" y="411.54" font-size="7.2" text-anchor="end" fill="#222" stroke="#222" stroke-width="0.18" font-weight="normal" font-style="normal" >4</text>
<line x1="35.50" y1="435.32" x2="38.80" y2="435.32" stroke="#1a1a1a" stroke-width="1.3"/>
<text x="32.60" y="437.82" font-size="7.2" text-anchor="end" fill="#222" stroke="#222" stroke-width="0.18" font-weight="normal" font-style="normal" >2</text>
<line x1="35.50" y1="461.60" x2="38.80" y2="461.60" stroke="#1a1a1a" stroke-width="1.3"/>
<text x="32.60" y="464.10" font-size="7.2" text-anchor="end" fill="#222" stroke="#222" stroke-width="0.18" font-weight="normal" font-style="normal" >0</text>
<line x1="38.10" y1="461.60" x2="311.00" y2="461.60" stroke="#1a1a1a" stroke-width="1.4"/>
<line x1="54.90" y1="461.60" x2="54.90" y2="464.80" stroke="#1a1a1a" stroke-width="1.3"/>
<text x="54.90" y="474.90" font-size="7.2" text-anchor="middle" fill="#222" stroke="#222" stroke-width="0.18" font-weight="normal" font-style="normal" >0</text>
<line x1="74.40" y1="461.60" x2="74.40" y2="464.80" stroke="#1a1a1a" stroke-width="1.3"/>
<text x="74.40" y="474.90" font-size="7.2" text-anchor="middle" fill="#222" stroke="#222" stroke-width="0.18" font-weight="normal" font-style="normal" >2</text>
<line x1="93.80" y1="461.60" x2="93.80" y2="464.80" stroke="#1a1a1a" stroke-width="1.3"/>
<text x="93.80" y="474.90" font-size="7.2" text-anchor="middle" fill="#222" stroke="#222" stroke-width="0.18" font-weight="normal" font-style="normal" >4</text>
<line x1="113.20" y1="461.60" x2="113.20" y2="464.80" stroke="#1a1a1a" stroke-width="1.3"/>
<text x="113.20" y="474.90" font-size="7.2" text-anchor="middle" fill="#222" stroke="#222" stroke-width="0.18" font-weight="normal" font-style="normal" >6</text>
<line x1="145.80" y1="461.60" x2="145.80" y2="464.80" stroke="#1a1a1a" stroke-width="1.3"/>
<text x="145.80" y="474.90" font-size="7.2" text-anchor="middle" fill="#222" stroke="#222" stroke-width="0.18" font-weight="normal" font-style="normal" >0</text>
<line x1="165.10" y1="461.60" x2="165.10" y2="464.80" stroke="#1a1a1a" stroke-width="1.3"/>
<text x="165.10" y="474.90" font-size="7.2" text-anchor="middle" fill="#222" stroke="#222" stroke-width="0.18" font-weight="normal" font-style="normal" >2</text>
<line x1="184.50" y1="461.60" x2="184.50" y2="464.80" stroke="#1a1a1a" stroke-width="1.3"/>
<text x="184.50" y="474.90" font-size="7.2" text-anchor="middle" fill="#222" stroke="#222" stroke-width="0.18" font-weight="normal" font-style="normal" >4</text>
<line x1="204.00" y1="461.60" x2="204.00" y2="464.80" stroke="#1a1a1a" stroke-width="1.3"/>
<text x="204.00" y="474.90" font-size="7.2" text-anchor="middle" fill="#222" stroke="#222" stroke-width="0.18" font-weight="normal" font-style="normal" >6</text>
<line x1="236.60" y1="461.60" x2="236.60" y2="464.80" stroke="#1a1a1a" stroke-width="1.3"/>
<text x="236.60" y="474.90" font-size="7.2" text-anchor="middle" fill="#222" stroke="#222" stroke-width="0.18" font-weight="normal" font-style="normal" >0</text>
<line x1="255.90" y1="461.60" x2="255.90" y2="464.80" stroke="#1a1a1a" stroke-width="1.3"/>
<text x="255.90" y="474.90" font-size="7.2" text-anchor="middle" fill="#222" stroke="#222" stroke-width="0.18" font-weight="normal" font-style="normal" >2</text>
<line x1="275.30" y1="461.60" x2="275.30" y2="464.80" stroke="#1a1a1a" stroke-width="1.3"/>
<text x="275.30" y="474.90" font-size="7.2" text-anchor="middle" fill="#222" stroke="#222" stroke-width="0.18" font-weight="normal" font-style="normal" >4</text>
<line x1="294.60" y1="461.60" x2="294.60" y2="464.80" stroke="#1a1a1a" stroke-width="1.3"/>
<text x="294.60" y="474.90" font-size="7.2" text-anchor="middle" fill="#222" stroke="#222" stroke-width="0.18" font-weight="normal" font-style="normal" >6</text>
<text transform="translate(22.50,449.40) rotate(-90)" font-size="9.0" font-style="italic" font-weight="bold" fill="#141414" textLength="34.4" lengthAdjust="spacingAndGlyphs">Zbtb7a/18S</text>
<text transform="translate(21.90,412.20) rotate(-90)" font-size="9.0" fill="#141414" stroke="#141414" stroke-width="0.2" textLength="46.4" lengthAdjust="spacingAndGlyphs">(arbitrary units)</text>
<text x="160.30" y="487.60" font-size="9.4" text-anchor="start" fill="#1e1e1e" stroke="#1e1e1e" stroke-width="0" font-weight="bold" font-style="normal" textLength="29.9" lengthAdjust="spacingAndGlyphs" >Time (hrs)</text>
<rect x="48.70" y="445.57" width="12.40" height="16.03" fill="#ad0a3a" stroke="#940a33" stroke-width="0.8"/>
<line x1="54.90" y1="439.26" x2="54.90" y2="450.96" stroke="#111" stroke-width="1.2"/>
<line x1="51.90" y1="439.26" x2="57.90" y2="439.26" stroke="#111" stroke-width="1.2"/>
<line x1="51.90" y1="450.96" x2="57.90" y2="450.96" stroke="#111" stroke-width="1.2"/>
<rect x="68.20" y="455.30" width="12.40" height="6.30" fill="#ad0a3a" stroke="#940a33" stroke-width="0.8"/>
<line x1="74.40" y1="452.27" x2="74.40" y2="457.26" stroke="#111" stroke-width="1.2"/>
<line x1="71.40" y1="452.27" x2="77.40" y2="452.27" stroke="#111" stroke-width="1.2"/>
<line x1="71.40" y1="457.26" x2="77.40" y2="457.26" stroke="#111" stroke-width="1.2"/>
<rect x="87.60" y="457.53" width="12.40" height="4.07" fill="#ad0a3a" stroke="#940a33" stroke-width="0.8"/>
<line x1="93.80" y1="455.16" x2="93.80" y2="458.97" stroke="#111" stroke-width="1.2"/>
<line x1="90.80" y1="455.16" x2="96.80" y2="455.16" stroke="#111" stroke-width="1.2"/>
<line x1="90.80" y1="458.97" x2="96.80" y2="458.97" stroke="#111" stroke-width="1.2"/>
<rect x="107.00" y="457.66" width="12.40" height="3.94" fill="#ad0a3a" stroke="#940a33" stroke-width="0.8"/>
<line x1="113.20" y1="455.95" x2="113.20" y2="458.58" stroke="#111" stroke-width="1.2"/>
<line x1="110.20" y1="455.95" x2="116.20" y2="455.95" stroke="#111" stroke-width="1.2"/>
<line x1="110.20" y1="458.58" x2="116.20" y2="458.58" stroke="#111" stroke-width="1.2"/>
<rect x="139.60" y="444.92" width="12.40" height="16.68" fill="#2c4a7a" stroke="#2a3a6e" stroke-width="0.8"/>
<line x1="145.80" y1="439.26" x2="145.80" y2="448.85" stroke="#111" stroke-width="1.2"/>
<line x1="142.80" y1="439.26" x2="148.80" y2="439.26" stroke="#111" stroke-width="1.2"/>
<line x1="142.80" y1="448.85" x2="148.80" y2="448.85" stroke="#111" stroke-width="1.2"/>
<rect x="158.90" y="410.62" width="12.40" height="50.98" fill="#2c4a7a" stroke="#2a3a6e" stroke-width="0.8"/>
<line x1="165.10" y1="393.01" x2="165.10" y2="427.17" stroke="#111" stroke-width="1.2"/>
<line x1="162.10" y1="393.01" x2="168.10" y2="393.01" stroke="#111" stroke-width="1.2"/>
<line x1="162.10" y1="427.17" x2="168.10" y2="427.17" stroke="#111" stroke-width="1.2"/>
<rect x="178.30" y="435.46" width="12.40" height="26.14" fill="#2c4a7a" stroke="#2a3a6e" stroke-width="0.8"/>
<line x1="184.50" y1="425.60" x2="184.50" y2="444.26" stroke="#111" stroke-width="1.2"/>
<line x1="181.50" y1="425.60" x2="187.50" y2="425.60" stroke="#111" stroke-width="1.2"/>
<line x1="181.50" y1="444.26" x2="187.50" y2="444.26" stroke="#111" stroke-width="1.2"/>
<rect x="197.80" y="422.84" width="12.40" height="38.76" fill="#2c4a7a" stroke="#2a3a6e" stroke-width="0.8"/>
<line x1="204.00" y1="408.12" x2="204.00" y2="436.11" stroke="#111" stroke-width="1.2"/>
<line x1="201.00" y1="408.12" x2="207.00" y2="408.12" stroke="#111" stroke-width="1.2"/>
<line x1="201.00" y1="436.11" x2="207.00" y2="436.11" stroke="#111" stroke-width="1.2"/>
<rect x="230.40" y="444.79" width="12.40" height="16.81" fill="#6ea843" stroke="#679c42" stroke-width="0.8"/>
<line x1="236.60" y1="439.39" x2="236.60" y2="449.38" stroke="#111" stroke-width="1.2"/>
<line x1="233.60" y1="439.39" x2="239.60" y2="439.39" stroke="#111" stroke-width="1.2"/>
<line x1="233.60" y1="449.38" x2="239.60" y2="449.38" stroke="#111" stroke-width="1.2"/>
<rect x="249.70" y="398.53" width="12.40" height="63.07" fill="#6ea843" stroke="#679c42" stroke-width="0.8"/>
<line x1="255.90" y1="375.01" x2="255.90" y2="421.13" stroke="#111" stroke-width="1.2"/>
<line x1="252.90" y1="375.01" x2="258.90" y2="375.01" stroke="#111" stroke-width="1.2"/>
<line x1="252.90" y1="421.13" x2="258.90" y2="421.13" stroke="#111" stroke-width="1.2"/>
<rect x="269.10" y="417.32" width="12.40" height="44.28" fill="#6ea843" stroke="#679c42" stroke-width="0.8"/>
<line x1="275.30" y1="406.02" x2="275.30" y2="428.49" stroke="#111" stroke-width="1.2"/>
<line x1="272.30" y1="406.02" x2="278.30" y2="406.02" stroke="#111" stroke-width="1.2"/>
<line x1="272.30" y1="428.49" x2="278.30" y2="428.49" stroke="#111" stroke-width="1.2"/>
<rect x="288.40" y="422.32" width="12.40" height="39.28" fill="#6ea843" stroke="#679c42" stroke-width="0.8"/>
<line x1="294.60" y1="408.65" x2="294.60" y2="435.06" stroke="#111" stroke-width="1.2"/>
<line x1="291.60" y1="408.65" x2="297.60" y2="408.65" stroke="#111" stroke-width="1.2"/>
<line x1="291.60" y1="435.06" x2="297.60" y2="435.06" stroke="#111" stroke-width="1.2"/>
<line x1="38.10" y1="461.60" x2="311.00" y2="461.60" stroke="#1a1a1a" stroke-width="1.4"/>
<circle cx="165.10" cy="387.30" r="1.2" fill="#111"/>
<circle cx="255.90" cy="369.90" r="1.2" fill="#111"/>
<circle cx="275.30" cy="400.90" r="1.2" fill="#111"/>
<rect x="328.2" y="391.50" width="6.6" height="6.6" fill="#ad0a3a"/>
<text x="338.20" y="397.70" font-size="7.5" text-anchor="start" fill="#222" stroke="#222" stroke-width="0.18" font-weight="normal" font-style="normal" textLength="16.0" lengthAdjust="spacingAndGlyphs" >CHX</text>
<rect x="328.2" y="404.60" width="6.6" height="6.6" fill="#2c4a7a"/>
<text x="338.20" y="410.80" font-size="7.5" text-anchor="start" fill="#222" stroke="#222" stroke-width="0.18" font-weight="normal" font-style="normal" textLength="32.7" lengthAdjust="spacingAndGlyphs" >Tamoxifen</text>
<rect x="328.2" y="417.70" width="6.6" height="6.6" fill="#6ea843"/>
<text x="338.20" y="423.90" font-size="7.5" text-anchor="start" fill="#222" stroke="#222" stroke-width="0.18" font-weight="normal" font-style="normal" textLength="53.2" lengthAdjust="spacingAndGlyphs" >Tamoxifen+CHX</text>
<rect x="0.6" y="0.6" width="518.8" height="496.8" fill="none" stroke="#000" stroke-width="1.3"/>
</svg></body></html>
